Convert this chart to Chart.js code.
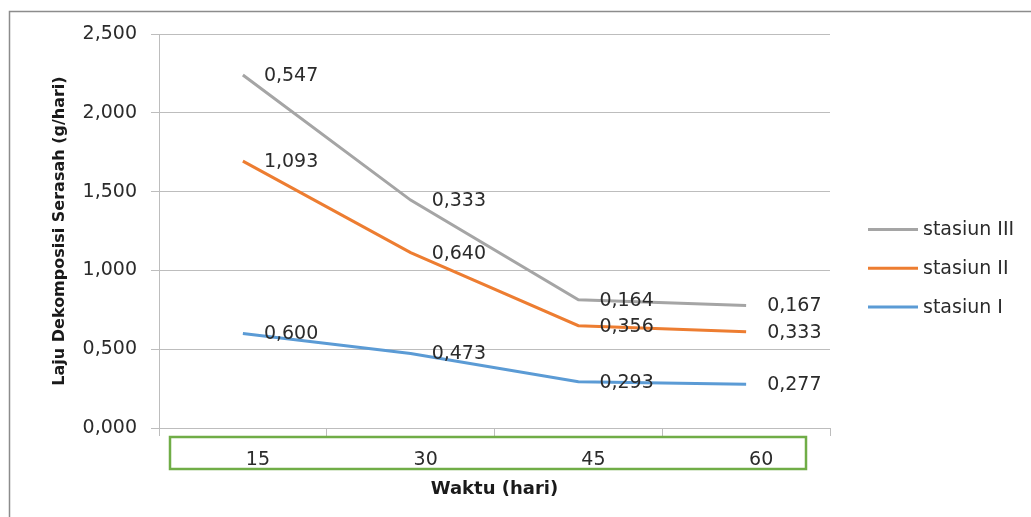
<!DOCTYPE html>
<html>
<head>
<meta charset="utf-8">
<script src="https://cdn.jsdelivr.net/npm/chart.js@4"></script>
<style>
  html, body { margin: 0; padding: 0; background: #ffffff; }
  #wrap { position: relative; width: 1031px; height: 517px; }
</style>
</head>
<body>
<div id="wrap"><canvas id="chart"></canvas></div>
<script>
// Waktu (hari)
const categories = ['15', '30', '45', '60'];
// Laju dekomposisi per stasiun (g/hari), stacked from stasiun I upward
const stasiunI   = [0.600, 0.473, 0.293, 0.277];
const stasiunII  = [1.093, 0.640, 0.356, 0.333];
const stasiunIII = [0.547, 0.333, 0.164, 0.167];
const yTicks = [0, 0.5, 1.0, 1.5, 2.0, 2.5];

const TEXT = '#2b2b2b';
const GRID = '#bdbdbd';
const fmt = v => v.toFixed(3).replace('.', ',');

// Outer frame of the chart box
const framePlugin = {
  id: 'frame',
  beforeDraw(chart) {
    const ctx = chart.ctx;
    ctx.save();
    ctx.strokeStyle = '#8c8c8c';
    ctx.lineWidth = 1.5;
    ctx.beginPath();
    ctx.moveTo(9.5, chart.height);
    ctx.lineTo(9.5, 11.5);
    ctx.lineTo(chart.width, 11.5);
    ctx.stroke();
    ctx.restore();
  }
};

// Value labels to the right of every point
const valueLabels = {
  id: 'valueLabels',
  afterDatasetsDraw(chart) {
    const ctx = chart.ctx;
    ctx.save();
    ctx.font = '19px "DejaVu Sans"';
    ctx.fillStyle = TEXT;
    ctx.textAlign = 'left';
    ctx.textBaseline = 'middle';
    chart.data.datasets.forEach((ds, di) => {
      const meta = chart.getDatasetMeta(di);
      meta.data.forEach((pt, i) => {
        ctx.fillText(fmt(ds.data[i]), pt.x + 21, pt.y + 1);
      });
    });
    ctx.restore();
  }
};

// Green box round the category labels and the legend on the right
const extras = {
  id: 'extras',
  afterDraw(chart) {
    const ctx = chart.ctx;
    const a = chart.chartArea;
    ctx.save();
    ctx.strokeStyle = '#70ad47';
    ctx.lineWidth = 2.5;
    ctx.strokeRect(a.left + 11, a.bottom + 9, a.width - 35, 32);

    const items = chart.data.datasets.slice().reverse();
    ctx.font = '19px "DejaVu Sans"';
    ctx.textAlign = 'left';
    ctx.textBaseline = 'middle';
    items.forEach((ds, k) => {
      const y = a.top + 195.5 + k * 38.7;
      ctx.strokeStyle = ds.borderColor;
      ctx.lineWidth = 3;
      ctx.beginPath();
      ctx.moveTo(a.right + 38, y);
      ctx.lineTo(a.right + 88, y);
      ctx.stroke();
      ctx.fillStyle = TEXT;
      ctx.fillText(ds.label, a.right + 93, y + 1);
    });
    ctx.restore();
  }
};

new Chart(document.getElementById('chart'), {
  type: 'line',
  data: {
    labels: categories,
    datasets: [
      { label: 'stasiun I',   data: stasiunI,   borderColor: '#5b9bd5', backgroundColor: '#5b9bd5' },
      { label: 'stasiun II',  data: stasiunII,  borderColor: '#ed7d31', backgroundColor: '#ed7d31' },
      { label: 'stasiun III', data: stasiunIII, borderColor: '#a5a5a5', backgroundColor: '#a5a5a5' }
    ]
  },
  options: {
    responsive: true,
    maintainAspectRatio: false,
    animation: false,
    layout: { padding: { left: 0, top: 34, right: 201, bottom: 0 } },
    elements: {
      line: { borderWidth: 3, tension: 0, fill: false, borderCapStyle: 'butt' },
      point: { radius: 0, hoverRadius: 0 }
    },
    plugins: {
      legend: { display: false },
      tooltip: { enabled: false }
    },
    scales: {
      x: {
        type: 'category',
        offset: true,
        grid: { drawOnChartArea: false, offset: true, drawTicks: true, tickLength: 8, color: GRID },
        border: { color: GRID, width: 1 },
        ticks: { color: TEXT, font: { family: 'DejaVu Sans', size: 19 }, padding: 13, labelOffset: 15, maxRotation: 0 },
        title: {
          display: true, text: 'Waktu (hari)', color: '#1a1a1a',
          font: { family: 'DejaVu Sans', size: 18, weight: 'bold' },
          padding: { top: 0, bottom: 17 }
        },
        afterFit(s) { s.height = 89; }
      },
      y: {
        stacked: true,
        min: 0,
        max: 2.5,
        afterBuildTicks(s) { s.ticks = yTicks.map(v => ({ value: v })); },
        grid: { color: GRID, tickLength: 8, drawTicks: true },
        border: { color: GRID, width: 1 },
        ticks: {
          color: TEXT, font: { family: 'DejaVu Sans', size: 19 }, padding: 14,
          callback: v => fmt(v)
        },
        title: {
          display: true, text: 'Laju Dekomposisi Serasah (g/hari)', color: '#1a1a1a',
          font: { family: 'DejaVu Sans', size: 16, weight: 'bold' },
          padding: { top: 50, bottom: 0 }
        },
        afterFit(s) { s.width = 159; }
      }
    }
  },
  plugins: [framePlugin, valueLabels, extras]
});
</script>
</body>
</html>
